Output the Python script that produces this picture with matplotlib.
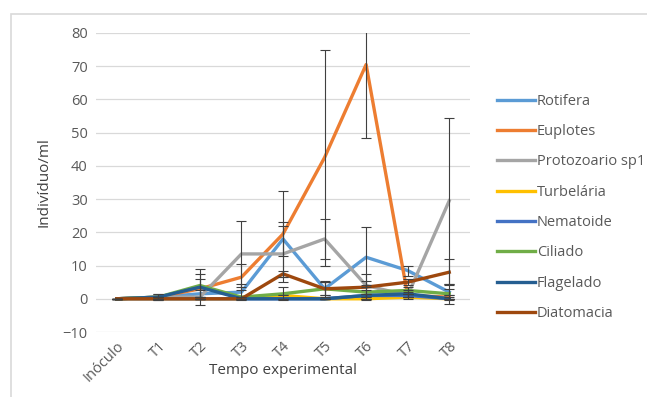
import numpy as np
import matplotlib.pyplot as plt
from matplotlib.patches import Rectangle

plt.rcParams['font.family'] = ['Open Sans', 'DejaVu Sans']

categorias = ["Inóculo", "T1", "T2", "T3", "T4", "T5", "T6", "T7", "T8"]

rotifera = [0, 0.5, 1.5, 2, 18, 3, 12.5, 8.5, 2]
euplotes = [0, 0.5, 3, 6.5, 19.5, 42.5, 70.5, 1, 0.5]
protozoario = [0, 0.5, 0.5, 13.5, 13.5, 18, 4, 1, 29.5]
turbelaria = [0, 0, 0, 0, 1, 0, 0, 0.5, 0]
nematoide = [0, 0, 0, 0, 0, 0, 1, 1, 0]
ciliado = [0, 0.5, 4, 0.5, 1.5, 3, 2, 2.5, 1.5]
flagelado = [0, 0.5, 3.5, 0, 0, 0, 1, 1.5, 0]
diatomacia = [0, 0, 0, 0, 7.5, 3, 3.5, 5, 8]

# desvio padrao (barras de erro)
err_rotifera = [0, 1, 1, 2.5, 5, 2.5, 9, 1.5, 1]
err_euplotes = [0, 0, 3, 4, 13, 32.5, 22, 1, 0.5]
err_protozoario = [0, 0, 0, 10, 8.5, 6, 1.5, 0.5, 25]
err_turbelaria = [0, 0, 0, 0, 0, 0, 0, 0, 0]
err_nematoide = [0, 0, 0, 0, 0, 0, 0.5, 0.5, 0]
err_ciliado = [0, 1, 3.5, 0, 2, 2, 2, 1, 3]
err_flagelado = [0, 0, 5.5, 0, 0, 0, 0.5, 1, 0.5]
err_diatomacia = [0, 0, 0, 0, 1, 2, 4, 1, 4]

series = [
    ("Rotifera", rotifera, err_rotifera, "#5B9BD5"),
    ("Euplotes", euplotes, err_euplotes, "#ED7D31"),
    ("Protozoario sp1", protozoario, err_protozoario, "#A5A5A5"),
    ("Turbelária", turbelaria, err_turbelaria, "#FFC000"),
    ("Nematoide", nematoide, err_nematoide, "#4472C4"),
    ("Ciliado", ciliado, err_ciliado, "#70AD47"),
    ("Flagelado", flagelado, err_flagelado, "#255E91"),
    ("Diatomacia", diatomacia, err_diatomacia, "#9E480E"),
]

fig = plt.figure(figsize=(6.47, 3.97), dpi=100)
fig.patches.append(Rectangle((11 / 647, -0.1), 1.2, 1 - 14 / 397 + 0.1,
                             transform=fig.transFigure, fill=False,
                             edgecolor="#D9D9D9", linewidth=1.2))
ax = fig.add_axes([96 / 647, 65 / 397, 374 / 647, 299 / 397])

x = np.arange(len(categorias))
for nome, vals, err, cor in series:
    ax.plot(x, vals, color=cor, linewidth=2.4, label=nome, zorder=3)
    ax.errorbar(x, vals, yerr=err, fmt="none", ecolor="#404040",
                elinewidth=0.8, capsize=3.5, capthick=0.8, zorder=4)

ax.set_xlim(-0.5, len(categorias) - 0.5)
ax.set_ylim(-10, 80)
ax.set_yticks(range(-10, 81, 10))
ax.set_xticks(x)
ax.set_xticklabels(categorias, rotation=45, ha="right", va="top",
                   rotation_mode="anchor")
ax.tick_params(axis="both", length=0, labelsize=10.5, colors="#595959", pad=6)
ax.tick_params(axis="x", pad=5)
for s in ax.spines.values():
    s.set_visible(False)
ax.grid(axis="y", color="#D9D9D9", linewidth=0.9)
ax.set_axisbelow(True)

ax.set_ylabel("Indivíduo/ml", fontsize=11, color="#404040", labelpad=8)
fig.text(283 / 647, 1 - 370 / 397, "Tempo experimental", fontsize=11,
         color="#404040", ha="center", va="center")

ax.legend(loc="upper left", bbox_to_anchor=(1.056, 0.816), frameon=False,
          fontsize=10.5, labelcolor="#595959", handlelength=2.6,
          handletextpad=0.14, labelspacing=1.05, borderaxespad=0)

fig.savefig("out.png", dpi=100)
